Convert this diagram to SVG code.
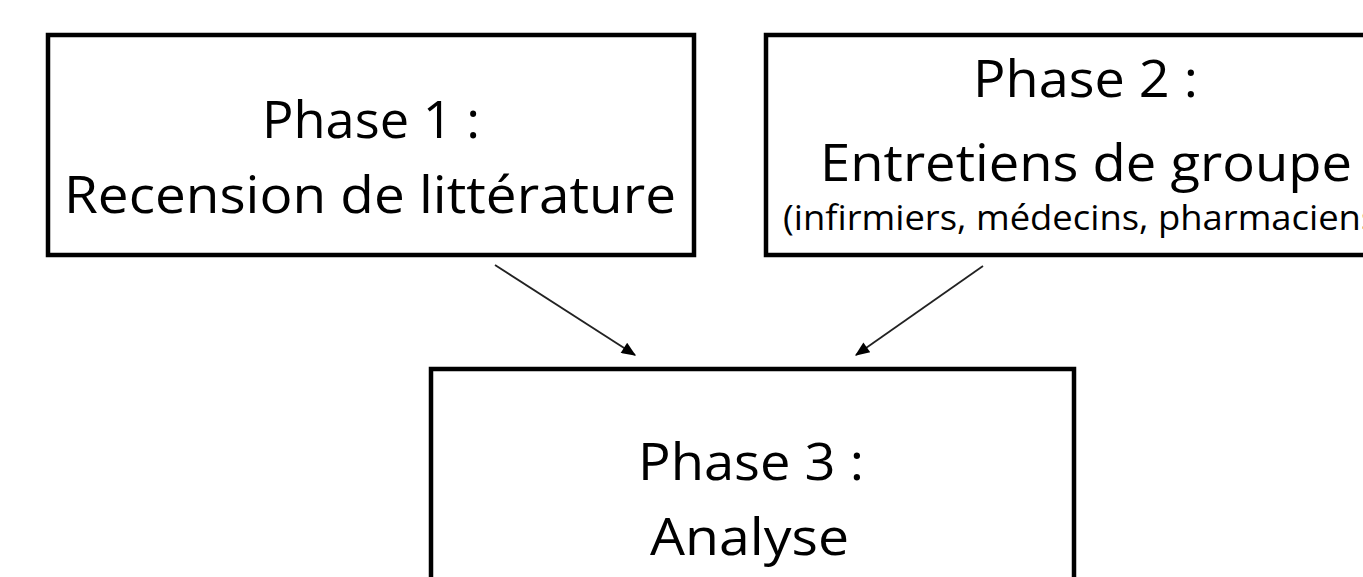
<svg xmlns="http://www.w3.org/2000/svg" width="1363" height="577" viewBox="0 0 1363 577">
<style>
.box{fill:#fff;stroke:#000;stroke-width:4.5}
.t{font-family:"Open Sans","Noto Sans",sans-serif;fill:#000;font-size:52px}
.s{font-family:"Open Sans","Noto Sans",sans-serif;fill:#000;font-size:35px}
.c{stroke:#222;stroke-width:1.8;fill:none}
</style>
<defs>
<marker id="ah" viewBox="0 0 12 10" markerWidth="16" markerHeight="12" refX="11" refY="5" orient="auto" markerUnits="userSpaceOnUse"><path d="M0,0 L12,5 L0,10 Z" fill="#000"/></marker>
</defs>
<rect width="1363" height="577" fill="#fff"/>
<g id="phase1">
<rect class="box" x="48" y="35" width="646" height="220"/>
<text class="t" x="262" y="138" textLength="218" lengthAdjust="spacingAndGlyphs">Phase 1 :</text>
<text class="t" x="64" y="213" textLength="612" lengthAdjust="spacingAndGlyphs">Recension de littérature</text>
</g>
<g id="phase2">
<rect class="box" x="766" y="35" width="646" height="220"/>
<text class="t" x="973" y="97" textLength="225" lengthAdjust="spacingAndGlyphs">Phase 2 :</text>
<text class="t" x="820" y="181" textLength="532" lengthAdjust="spacingAndGlyphs">Entretiens de groupe</text>
<text class="s" x="783" y="230" textLength="606" lengthAdjust="spacingAndGlyphs">(infirmiers, médecins, pharmaciens)</text>
</g>
<g id="phase3">
<rect class="box" x="431" y="369" width="643" height="240"/>
<text class="t" x="638" y="480" textLength="226" lengthAdjust="spacingAndGlyphs">Phase 3 :</text>
<text class="t" x="650" y="555" textLength="199" lengthAdjust="spacingAndGlyphs">Analyse</text>
</g>
<g id="connectors">
<path class="c" d="M495,265 L635,355" marker-end="url(#ah)"/>
<path class="c" d="M983,266 L856,355" marker-end="url(#ah)"/>
</g>
</svg>
